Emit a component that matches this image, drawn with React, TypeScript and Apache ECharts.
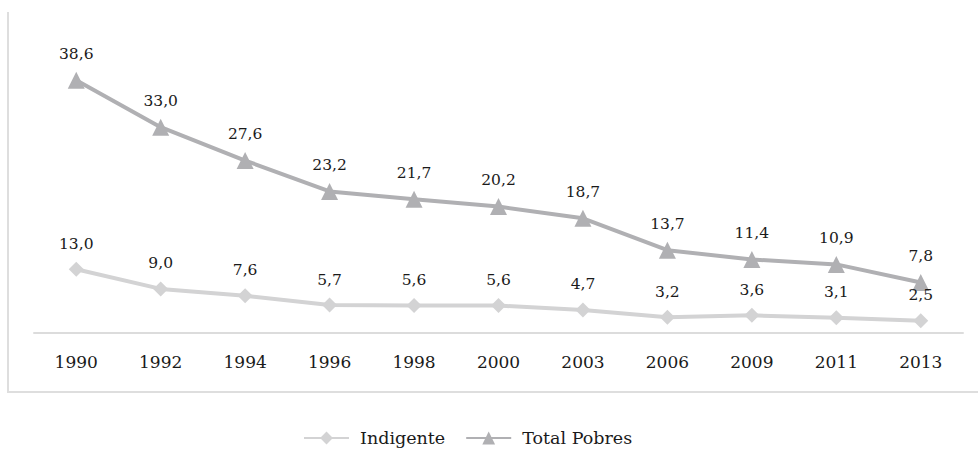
import React, { useEffect, useRef } from "react";
import * as echarts from "echarts";

const years = ["1990", "1992", "1994", "1996", "1998", "2000", "2003", "2006", "2009", "2011", "2013"];
const indigente = [13.0, 9.0, 7.6, 5.7, 5.6, 5.6, 4.7, 3.2, 3.6, 3.1, 2.5];
const totalPobres = [38.6, 33.0, 27.6, 23.2, 21.7, 20.2, 18.7, 13.7, 11.4, 10.9, 7.8];

const FONT = "DejaVu Serif";
const fmt = (p: any) => Number(p.value).toFixed(1).replace(".", ",");

export default function App() {
  const ref = useRef<HTMLDivElement>(null);
  useEffect(() => {
    if (!ref.current) return;
    const chart = echarts.init(ref.current, undefined, { renderer: "svg" });
    chart.setOption({
      animation: false,
      backgroundColor: "#ffffff",
      textStyle: { fontFamily: FONT },
      graphic: [
        {
          type: "polyline",
          shape: { points: [[8, 12], [8, 392], [978, 392]] },
          style: { stroke: "#dedede", lineWidth: 2, fill: "none" },
          silent: true,
        },
      ],
      grid: { left: 34, right: 15, top: 39, bottom: 118 },
      legend: {
        top: 424,
        left: 298,
        itemWidth: 45,
        itemHeight: 16,
        itemGap: 20,
        textStyle: { fontFamily: FONT, fontSize: 17.5, color: "#1a1a1a", padding: [0, 0, 0, 6] },
        data: ["Indigente", "Total Pobres"],
      },
      xAxis: {
        type: "category",
        data: years,
        boundaryGap: true,
        axisLine: { lineStyle: { color: "#dcdcdc", width: 2 } },
        axisTick: { show: false },
        axisLabel: { fontFamily: FONT, fontSize: 17, color: "#1a1a1a", margin: 20 },
      },
      yAxis: {
        type: "value",
        min: 0,
        max: 60,
        show: false,
        splitLine: { show: false },
      },
      series: [
        {
          name: "Indigente",
          type: "line",
          stack: "total",
          data: indigente,
          symbol: "diamond",
          symbolSize: 15,
          color: "#d3d3d4",
          lineStyle: { width: 4, color: "#d3d3d4" },
          itemStyle: { color: "#d3d3d4" },
          label: {
            show: true,
            position: "top",
            distance: 10,
            formatter: fmt,
            fontFamily: FONT,
            fontSize: 15.5,
            color: "#1a1a1a",
          },
        },
        {
          name: "Total Pobres",
          type: "line",
          stack: "total",
          data: totalPobres,
          symbol: "triangle",
          symbolSize: 17,
          color: "#b0b0b3",
          lineStyle: { width: 4, color: "#b0b0b3" },
          itemStyle: { color: "#b0b0b3" },
          label: {
            show: true,
            position: "top",
            distance: 10,
            formatter: fmt,
            fontFamily: FONT,
            fontSize: 15.5,
            color: "#1a1a1a",
          },
        },
      ],
    });
    return () => chart.dispose();
  }, []);
  return <div ref={ref} style={{ width: 978, height: 451, position: "absolute", left: 0, top: 0 }} />;
}
